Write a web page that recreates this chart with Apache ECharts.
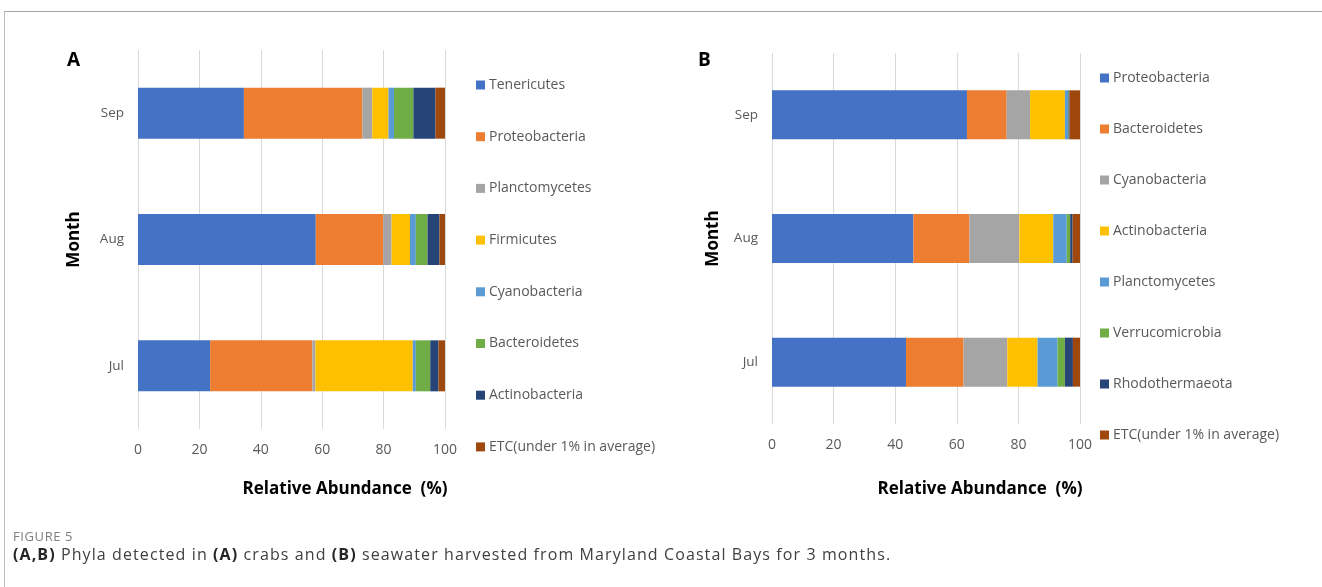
<!DOCTYPE html>
<html>
<head>
<meta charset="utf-8">
<script src="https://cdn.jsdelivr.net/npm/echarts@6/dist/echarts.min.js"></script>
<style>
  body { margin: 0; background: #fff; }
  #wrap { position: relative; width: 1322px; height: 587px; overflow: hidden; font-family: "Open Sans", sans-serif; }
  #frame { position: absolute; left: 4px; top: 11px; right: -2px; bottom: -2px; border-top: 1px solid #a6a6a6; border-left: 1px solid #bdbdbd; }
  .chart { position: absolute; left: 0; top: 0; width: 1322px; height: 587px; }
  #figno { position: absolute; left: 13px; top: 527px; font-size: 13px; letter-spacing: 0.6px; color: #7f7f7f; }
  #caption { position: absolute; left: 13px; top: 543px; font-size: 16px; letter-spacing: 1.1px; color: #404040; white-space: nowrap; }
  #caption b { font-weight: 700; color: #262626; }
</style>
</head>
<body>
<div id="wrap">
  <div id="frame"></div>
  <div id="chartA" class="chart"></div>
  <div id="chartB" class="chart"></div>
  <div id="figno">FIGURE 5</div>
  <div id="caption"><b>(A,B)</b> Phyla detected in <b>(A)</b> crabs and <b>(B)</b> seawater harvested from Maryland Coastal Bays for 3 months.</div>
</div>
<script>
// months, bottom to top
const months = ['Jul', 'Aug', 'Sep']

// A: crabs
const crabPhyla = ['Tenericutes', 'Proteobacteria', 'Planctomycetes', 'Firmicutes', 'Cyanobacteria', 'Bacteroidetes', 'Actinobacteria', 'ETC(under 1% in average)']
const crabJul = [23.5, 33.3, 1.0, 31.7, 1.0, 4.7, 2.7, 2.1]
const crabAug = [57.9, 22.0, 2.7, 6.0, 1.9, 3.8, 3.9, 1.8]
const crabSep = [34.5, 38.6, 3.2, 5.3, 1.8, 6.3, 7.2, 3.1]

// B: seawater
const waterPhyla = ['Proteobacteria', 'Bacteroidetes', 'Cyanobacteria', 'Actinobacteria', 'Planctomycetes', 'Verrucomicrobia', 'Rhodothermaeota', 'ETC(under 1% in average)']
const waterJul = [43.5, 18.7, 14.2, 9.8, 6.5, 2.4, 2.6, 2.3]
const waterAug = [45.9, 18.2, 16.2, 11.0, 4.4, 1.1, 0.8, 2.4]
const waterSep = [63.3, 12.9, 7.6, 11.3, 1.0, 0.2, 0.3, 3.4]

const colors = ['#4472C4', '#ED7D31', '#A5A5A5', '#FFC000', '#5B9BD5', '#70AD47', '#264478', '#9E480E']

function makeOption(p) {
  return {
    animation: false,
    color: colors,
    textStyle: { fontFamily: 'Open Sans' },
    graphic: [{
      type: 'text', left: p.letterX, top: 51,
      style: { text: p.letter, font: 'bold 19px "Open Sans"', fill: '#000' }
    }, {
      // axis title sits right of the plot centre in the original
      type: 'text', x: p.titleX, y: 489,
      style: { text: 'Relative Abundance  (%)', font: 'bold 17px "Open Sans"', fill: '#000', align: 'center', verticalAlign: 'middle' }
    }],
    legend: {
      orient: 'vertical',
      left: p.legendLeft,
      top: p.legendTop,
      padding: 0,
      itemWidth: 9,
      itemHeight: 9,
      itemGap: p.legendGap,
      icon: 'rect',
      selectedMode: false,
      textStyle: { color: '#595959', fontSize: 14, padding: [0, 0, 0, -1] },
      data: p.phyla
    },
    grid: { left: p.left, top: p.top, width: p.width, height: p.height },
    xAxis: {
      type: 'value', min: 0, max: 100, interval: 20,
      axisLine: { show: false },
      axisTick: { show: false },
      splitLine: { lineStyle: { color: '#d9d9d9' } },
      axisLabel: { color: '#595959', fontSize: 14, margin: 14 }
    },
    yAxis: {
      type: 'category', data: months,
      axisLine: { show: false },
      axisTick: { show: false },
      axisLabel: { color: '#595959', fontSize: 13.5, margin: 14 },
      name: 'Month',
      nameLocation: 'middle',
      nameGap: p.nameGapY,
      nameTextStyle: { color: '#000', fontSize: 17, fontWeight: 'bold' }
    },
    series: p.phyla.map((name, i) => ({
      name: name,
      type: 'bar',
      stack: 'total',
      barWidth: p.barWidth,
      data: [p.jul[i], p.aug[i], p.sep[i]]
    }))
  }
}

const chartA = echarts.init(document.getElementById('chartA'))
chartA.setOption(makeOption({
  letter: 'A', letterX: 67, titleX: 345,
  phyla: crabPhyla, jul: crabJul, aug: crabAug, sep: crabSep,
  left: 138, top: 50, width: 307, height: 379, barWidth: 51,
  legendLeft: 476, legendTop: 78, legendGap: 37.7,
  nameGapY: 55
}))

const chartB = echarts.init(document.getElementById('chartB'))
chartB.setOption(makeOption({
  letter: 'B', letterX: 698, titleX: 980,
  phyla: waterPhyla, jul: waterJul, aug: waterAug, sep: waterSep,
  left: 772, top: 53, width: 308, height: 371, barWidth: 49,
  legendLeft: 1100, legendTop: 71, legendGap: 37,
  nameGapY: 50
}))
</script>
</body>
</html>
